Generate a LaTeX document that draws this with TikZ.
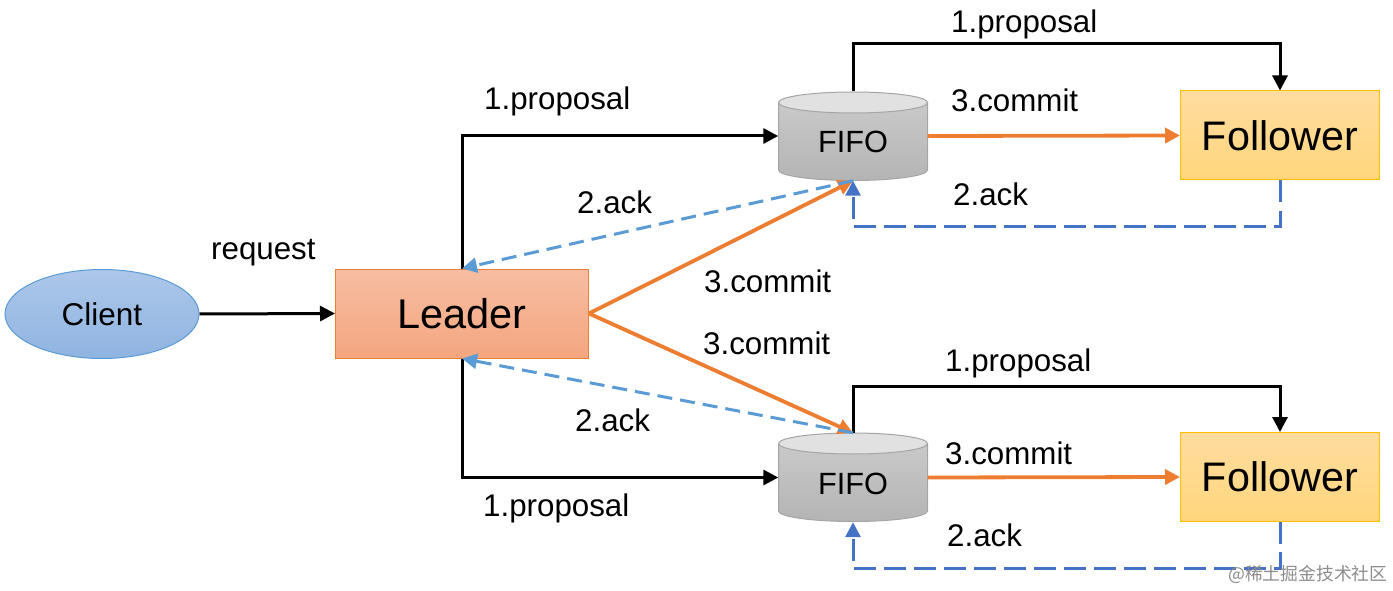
\documentclass[tikz,border=0pt]{standalone}
\usepackage{fontspec}
\setmainfont{Liberation Sans}
\newfontfamily\cjkwm{Noto Sans CJK SC}
\usetikzlibrary{arrows.meta,shapes.geometric}
\definecolor{cOrange}{HTML}{ED7D31}
\definecolor{cLight}{HTML}{5B9BD5}
\definecolor{cDark}{HTML}{4472C4}
\definecolor{cGold}{HTML}{FFC000}
\tikzset{
  x=1pt,y=-1pt,
  lab/.style={anchor=base west,inner sep=0pt,font=\fontsize{31.3}{31}\selectfont,text=black},
  clientnode/.style={ellipse,draw=cLight,line width=1pt,top color=cLBt,bottom color=cLBb,minimum width=194pt,minimum height=89pt,inner sep=0pt,font=\fontsize{31.5}{32}\selectfont},
  leadernode/.style={rectangle,draw=cOrange,line width=1pt,top color=cOt,bottom color=cOb,minimum width=253pt,minimum height=89pt,inner sep=0pt,font=\fontsize{41.5}{42}\selectfont},
  followernode/.style={rectangle,draw=cGold,line width=1pt,top color=cFt,bottom color=cFb,minimum width=199pt,minimum height=89pt,inner sep=0pt,font=\fontsize{41.3}{42}\selectfont},
  fifonode/.style={rectangle,minimum width=149pt,minimum height=89pt,inner sep=0pt,font=\fontsize{30.7}{31}\selectfont},
  fifobody/.style={draw=cGrayL,line width=1pt,top color=cGt,bottom color=cGb},
  fifotop/.style={draw=cGrayL,line width=1pt,fill=cGtop},
  blackarrow/.style={draw=black,line width=3pt,-{Triangle[length=15pt,width=15pt]}},
  orangearrow/.style={draw=cOrange,line width=3.8pt,-{Triangle[length=15pt,width=15pt]}},
  lightdash/.style={draw=cLight,line width=3pt,dash pattern=on 15pt off 8pt,-{Triangle[length=15pt,width=15pt]}},
  darkdash/.style={draw=cDark,line width=3pt,dash pattern=on 22pt off 8pt,-{Triangle[length=15pt,width=15pt]}},
}
\definecolor{cLBt}{HTML}{ADC7E9}
\definecolor{cLBb}{HTML}{8FB4E1}
\definecolor{cOt}{HTML}{F6BDA2}
\definecolor{cOb}{HTML}{F4A67F}
\definecolor{cFt}{HTML}{FFDC9F}
\definecolor{cFb}{HTML}{FFD67C}
\definecolor{cGt}{HTML}{C9C9C9}
\definecolor{cGb}{HTML}{B4B4B4}
\definecolor{cGtop}{HTML}{E1E1E1}
\definecolor{cGrayL}{HTML}{A5A5A5}
\newcommand{\fifoshape}[1]{%
  \path[fifobody] (778.5,#1+10.5) -- (778.5,#1+78) arc[start angle=180,end angle=360,x radius=74.5pt,y radius=10.5pt] -- (927.5,#1+10.5) -- cycle;
  \path[fifotop] (853,#1+10.5) ellipse[x radius=74.5pt,y radius=10.5pt];
}
\begin{document}
\begin{tikzpicture}
\useasboundingbox (0,0) rectangle (1393,591);
\fifoshape{92}
\fifoshape{433}
\node[clientnode] (client) at (102,314) {Client};
\node[leadernode] (leader) at (462,313.5) {Leader};
\node[fifonode] (fifoA) at (853,136) {\raisebox{-17pt}[0pt][0pt]{FIFO}};
\node[fifonode] (fifoB) at (853,477.5) {\raisebox{-17pt}[0pt][0pt]{FIFO}};
\node[followernode] (follA) at (1280,135.5) {Follower};
\node[followernode] (follB) at (1280,477) {Follower};
\coordinate (a1) at (fifoA.north |- 0,44);
\coordinate (a2) at (follA.north |- 0,44);
\coordinate (b1) at (fifoB.north |- 0,386);
\coordinate (b2) at (follB.north |- 0,386);
\coordinate (c1) at (follA.south |- 0,226);
\coordinate (c2) at (fifoA.south |- 0,226);
\coordinate (d1) at (follB.south |- 0,568);
\coordinate (d2) at (fifoB.south |- 0,568);
\draw[blackarrow] (client.east) -- (leader.west);
\draw[blackarrow] (leader.north) |- (fifoA.west);
\draw[blackarrow] (leader.south) |- (fifoB.west);
\draw[blackarrow] (fifoA.north) -- (a1) -- (a2) -- (follA.north);
\draw[blackarrow] (fifoB.north) -- (b1) -- (b2) -- (follB.north);
\draw[orangearrow] (fifoA.east) -- (follA.west);
\draw[orangearrow] (fifoB.east) -- (follB.west);
\draw[orangearrow] (leader.east) -- (fifoA.south);
\draw[orangearrow] (leader.east) -- (fifoB.north);
\draw[lightdash] (fifoA.south) -- (leader.north);
\draw[lightdash] (fifoB.north) -- (leader.south);
\draw[darkdash] (follA.south) -- (c1) -- (c2) -- (fifoA.south);
\draw[darkdash] (follB.south) -- (d1) -- (d2) -- (fifoB.south);
\node[lab] (l1) at (211,259) {request};
\node[lab] (l2) at (484,110) {1.proposal};
\node[lab] (l3) at (577,213) {2.ack};
\node[lab] (l4) at (704,292) {3.commit};
\node[lab] (l5) at (703,354) {3.commit};
\node[lab] (l6) at (575,431) {2.ack};
\node[lab] (l7) at (483,516) {1.proposal};
\node[lab] (l8) at (951,33) {1.proposal};
\node[lab] (l9) at (951,112) {3.commit};
\node[lab] (l10) at (953,205) {2.ack};
\node[lab] (l11) at (945,371) {1.proposal};
\node[lab] (l12) at (945,464) {3.commit};
\node[lab] (l13) at (947,546) {2.ack};
\node[anchor=base west,inner sep=0pt,text=black!45,font=\cjkwm\fontsize{17.8}{18}\selectfont] (wm) at (1228,580) {@稀土掘金技术社区};
\end{tikzpicture}
\end{document}
